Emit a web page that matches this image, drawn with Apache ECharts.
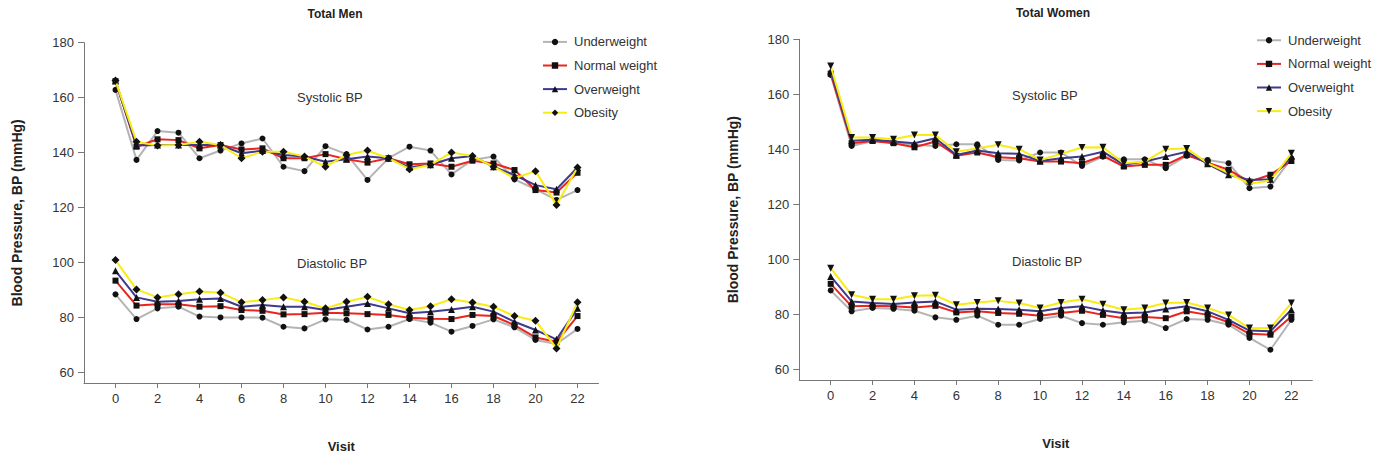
<!DOCTYPE html>
<html>
<head>
<meta charset="utf-8">
<script src="https://cdn.jsdelivr.net/npm/echarts@6.0.0/dist/echarts.min.js"></script>
<style>
  html, body { margin: 0; padding: 0; background: #fff; }
  #chart { width: 1378px; height: 460px; }
</style>
</head>
<body>
<div id="chart"></div>
<script>
// --- DATA ---
const visits = [0, 1, 2, 3, 4, 5, 6, 7, 8, 9, 10, 11, 12, 13, 14, 15, 16, 17, 18, 19, 20, 21, 22];
const groups = ['Underweight', 'Normal weight', 'Overweight', 'Obesity'];
const yTicks = [60, 80, 100, 120, 140, 160, 180];
const xTicks = [0, 2, 4, 6, 8, 10, 12, 14, 16, 18, 20, 22];

// Total Men
const menSysUnder  = [162.8, 137.3, 147.8, 147.2, 137.9, 140.7, 143.3, 145.1, 134.8, 133.2, 142.3, 139.4, 130.0, 137.9, 142.1, 140.7, 132.0, 137.3, 138.5, 130.2, 126.6, 122.7, 126.3];
const menSysNormal = [166.0, 142.1, 144.8, 144.5, 141.5, 142.7, 141.1, 141.5, 137.9, 137.9, 139.4, 137.5, 136.3, 137.9, 135.7, 136.0, 134.8, 137.0, 136.0, 133.6, 126.3, 125.4, 132.6];
const menSysOver   = [166.0, 142.5, 142.7, 142.7, 142.7, 142.7, 139.7, 140.7, 139.1, 138.5, 136.6, 137.5, 138.5, 137.9, 134.6, 135.5, 137.9, 138.7, 134.8, 131.8, 128.1, 126.6, 134.5];
const menSysObese  = [166.2, 143.9, 142.5, 142.7, 143.9, 142.7, 137.9, 140.3, 140.3, 138.5, 134.8, 139.1, 140.7, 137.9, 133.9, 135.5, 140.0, 138.7, 134.8, 130.6, 133.2, 120.9, 134.5];
const menDiaUnder  = [88.3, 79.3, 83.2, 83.8, 80.2, 79.9, 79.9, 79.8, 76.5, 75.9, 79.2, 79.0, 75.5, 76.5, 79.3, 78.0, 74.7, 76.8, 79.2, 76.3, 71.7, 70.2, 75.7];
const menDiaNormal = [93.3, 84.2, 84.7, 84.7, 83.8, 84.0, 82.6, 82.3, 81.0, 81.1, 81.6, 81.4, 81.1, 80.8, 79.8, 79.4, 79.3, 80.8, 80.4, 77.1, 72.6, 71.0, 80.4];
const menDiaOver   = [96.9, 87.2, 85.6, 85.9, 86.5, 86.8, 83.8, 84.4, 83.8, 83.8, 82.6, 83.8, 85.0, 83.2, 81.4, 82.0, 82.8, 83.8, 82.0, 78.3, 75.3, 71.9, 83.2];
const menDiaObese  = [100.8, 90.1, 87.2, 88.3, 89.3, 88.9, 85.4, 86.2, 87.2, 85.6, 83.2, 85.6, 87.4, 84.7, 82.6, 84.0, 86.5, 85.3, 83.8, 80.4, 78.7, 68.6, 85.4];

// Total Women
const womSysUnder  = [167.0, 141.2, 143.0, 142.4, 141.6, 141.2, 141.8, 141.8, 136.1, 135.9, 138.8, 138.8, 133.9, 137.3, 136.3, 136.3, 133.1, 137.6, 136.1, 134.9, 125.8, 126.4, 136.7];
const womSysNormal = [167.5, 142.2, 143.0, 142.2, 140.7, 142.8, 137.6, 138.8, 137.1, 136.7, 135.5, 135.5, 134.9, 137.6, 133.7, 134.3, 134.3, 137.9, 135.1, 132.5, 128.2, 130.7, 135.7];
const womSysOver   = [168.5, 143.1, 143.4, 142.8, 142.2, 144.0, 137.9, 139.5, 138.5, 138.3, 135.7, 136.7, 137.3, 139.1, 134.3, 135.5, 137.3, 139.1, 134.7, 130.7, 128.8, 129.1, 137.3];
const womSysObese  = [170.3, 144.3, 144.3, 143.6, 145.2, 145.2, 139.1, 140.3, 141.6, 140.0, 136.1, 138.3, 140.6, 140.7, 134.9, 135.5, 140.0, 140.3, 134.9, 131.3, 127.4, 128.6, 138.5];
const womDiaUnder  = [88.6, 81.0, 82.2, 81.9, 81.2, 78.8, 77.9, 79.4, 76.1, 76.1, 78.2, 79.4, 76.7, 76.1, 77.0, 77.6, 74.9, 78.2, 77.9, 76.1, 71.3, 67.0, 77.9];
const womDiaNormal = [91.0, 82.8, 83.0, 82.8, 82.4, 83.0, 80.6, 81.0, 80.4, 80.1, 79.4, 80.4, 81.2, 79.7, 78.5, 78.9, 78.5, 81.0, 79.7, 77.0, 72.8, 72.5, 79.1];
const womDiaOver   = [93.7, 84.6, 84.0, 83.7, 84.2, 84.6, 81.6, 81.9, 81.8, 81.6, 81.0, 82.2, 82.8, 81.3, 80.3, 80.6, 81.8, 82.8, 81.0, 77.9, 74.0, 73.7, 81.6];
const womDiaObese  = [96.7, 87.0, 85.4, 85.4, 86.7, 86.8, 83.4, 84.2, 84.8, 84.0, 82.2, 84.2, 85.4, 83.6, 81.6, 82.2, 84.0, 84.2, 82.2, 79.7, 74.9, 74.9, 84.0];

// --- STYLE ---
const FONT = '"Liberation Sans", Arial, sans-serif';
const LINE_COLORS = ['#b4b4b4', '#e8261f', '#3f3a8c', '#f8ec12'];
const SYMBOLS_MEN = [
    { symbol: 'circle', size: 6, rotate: 0 },
    { symbol: 'rect', size: 6, rotate: 0 },
    { symbol: 'triangle', size: 7, rotate: 0 },
    { symbol: 'diamond', size: 8, rotate: 0 }
];
const SYMBOLS_WOMEN = [
    { symbol: 'circle', size: 6, rotate: 0 },
    { symbol: 'rect', size: 6, rotate: 0 },
    { symbol: 'triangle', size: 7, rotate: 0 },
    { symbol: 'triangle', size: 7, rotate: 180 }
];

const pairs = (vals) => visits.map((v, i) => [v, vals[i]]);

const makeSeries = (name, vals, idx, symbols, axisIdx) => ({
    name: name,
    type: 'line',
    xAxisIndex: axisIdx,
    yAxisIndex: axisIdx,
    data: pairs(vals),
    symbol: symbols[idx].symbol,
    symbolSize: symbols[idx].size,
    symbolRotate: symbols[idx].rotate,
    showSymbol: true,
    lineStyle: { color: LINE_COLORS[idx], width: 2 },
    itemStyle: { color: '#111' },
    emphasis: { disabled: true },
    z: 2 + idx
});

const menSets = [
    [menSysUnder, menDiaUnder], [menSysNormal, menDiaNormal],
    [menSysOver, menDiaOver], [menSysObese, menDiaObese]
];
const womSets = [
    [womSysUnder, womDiaUnder], [womSysNormal, womDiaNormal],
    [womSysOver, womDiaOver], [womSysObese, womDiaObese]
];

const series = [];
groups.forEach((g, i) => {
    series.push(makeSeries(g, menSets[i][0], i, SYMBOLS_MEN, 0));
    series.push(makeSeries(g, menSets[i][1], i, SYMBOLS_MEN, 0));
});
// women series get a prefix so their legend picks up their own symbols
groups.forEach((g, i) => {
    series.push(makeSeries('W:' + g, womSets[i][0], i, SYMBOLS_WOMEN, 1));
    series.push(makeSeries('W:' + g, womSets[i][1], i, SYMBOLS_WOMEN, 1));
});

const xAxisCfg = (gridIndex) => ({
    type: 'value',
    gridIndex: gridIndex,
    min: -1.5,
    max: 23,
    name: 'Visit',
    nameLocation: 'middle',
    nameGap: 57,
    nameTextStyle: { fontFamily: FONT, fontSize: 13, fontWeight: 'bold', color: '#222' },
    splitLine: { show: false },
    axisLine: { onZero: false, lineStyle: { color: '#777', width: 1 } },
    axisTick: { show: true, length: 5, customValues: xTicks, lineStyle: { color: '#777' } },
    axisLabel: { customValues: xTicks, margin: 9, fontFamily: FONT, fontSize: 13, color: '#333' }
});

const yAxisCfg = (gridIndex, gap) => ({
    type: 'value',
    gridIndex: gridIndex,
    min: 56,
    max: 180,
    name: 'Blood Pressure, BP (mmHg)',
    nameLocation: 'middle',
    nameGap: gap,
    nameRotate: 90,
    nameTextStyle: { fontFamily: FONT, fontSize: 14, fontWeight: 'bold', color: '#222' },
    splitLine: { show: false },
    axisLine: { show: true, onZero: false, lineStyle: { color: '#777', width: 1 } },
    axisTick: { show: true, length: 6, customValues: yTicks, lineStyle: { color: '#777' } },
    axisLabel: { customValues: yTicks, margin: 10, fontFamily: FONT, fontSize: 13, color: '#333' }
});

const legendCfg = (left, top, names) => ({
    orient: 'vertical',
    left: left,
    top: top,
    data: names,
    itemWidth: 24,
    itemHeight: 8,
    itemGap: 10.6,
    selectedMode: false,
    formatter: (n) => n.replace('W:', ''),
    textStyle: { fontFamily: FONT, fontSize: 13, color: '#333', padding: [0, 0, 0, 2] }
});

const label = (text, x, y, bold) => ({
    type: 'text',
    x: x,
    y: y,
    style: {
        text: text,
        font: (bold ? 'bold 12px ' : '13px ') + FONT,
        fill: bold ? '#222' : '#333',
        textAlign: bold ? 'center' : 'left',
        textVerticalAlign: 'middle'
    }
});

const chart = echarts.init(document.getElementById('chart'), null, { renderer: 'svg' });
chart.setOption({
    backgroundColor: '#fff',
    animation: false,
    grid: [
        { left: 84, top: 42.7, width: 514.5, height: 340.3 },
        { left: 799.3, top: 39.3, width: 513, height: 340.7 }
    ],
    xAxis: [xAxisCfg(0), xAxisCfg(1)],
    yAxis: [yAxisCfg(0, 60), yAxisCfg(1, 59)],
    legend: [
        legendCfg(537, 30.4, groups),
        legendCfg(1251, 28.8, groups.map(g => 'W:' + g))
    ],
    graphic: [
        label('Total Men', 335, 14, true),
        label('Total Women', 1053, 13, true),
        label('Systolic BP', 297, 97, false),
        label('Diastolic BP', 297, 263, false),
        label('Systolic BP', 1012, 95, false),
        label('Diastolic BP', 1012, 261, false)
    ],
    series: series
});
</script>
</body>
</html>
